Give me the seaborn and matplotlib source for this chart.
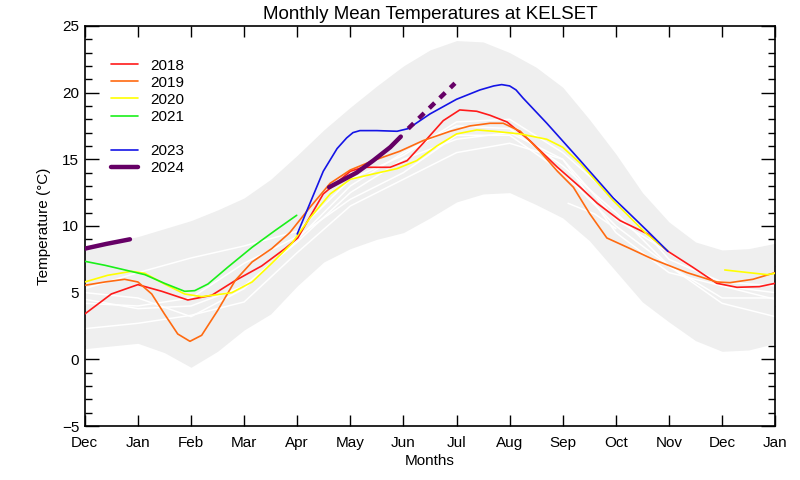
import numpy as np
import pandas as pd
import seaborn as sns
import matplotlib
matplotlib.use("Agg")
import matplotlib.pyplot as plt
from matplotlib.lines import Line2D
from matplotlib.ticker import MultipleLocator

# ---- data (x = months since start of Dec; 0=Dec ... 13=Jan) ----
month_labels = ["Dec", "Jan", "Feb", "Mar", "Apr", "May", "Jun", "Jul",
                "Aug", "Sep", "Oct", "Nov", "Dec", "Jan"]

band_x = [0, 0.5, 1, 1.5, 2, 2.5, 3, 3.5, 4, 4.5, 5, 5.5, 6, 6.5, 7, 7.5,
          8, 8.5, 9, 9.5, 10, 10.5, 11, 11.5, 12, 12.5, 13]
band_upper = [8.5, 8.8, 9.2, 9.8, 10.4, 11.2, 12.1, 13.5, 15.3, 17.2, 18.9,
              20.5, 22.0, 23.2, 23.9, 23.8, 23.0, 21.9, 20.4, 18.0, 15.4,
              12.5, 10.3, 8.8, 8.2, 8.3, 8.7]
band_lower = [0.8, 1.0, 1.2, 0.5, -0.6, 0.6, 2.2, 3.4, 5.5, 7.3, 8.3, 9.0,
              9.5, 10.6, 11.8, 12.4, 12.5, 11.6, 10.6, 8.9, 6.6, 4.3, 2.8,
              1.4, 0.6, 0.7, 1.2]

white_x = list(range(14))
white_a = [4.5, 3.8, 4.0, 5.5, 8.8, 12.5, 15.0, 16.5, 17.0, 15.0, 10.5, 8.0, 5.5, 4.5]
white_b = [5.0, 4.6, 3.2, 5.3, 9.0, 13.0, 15.5, 17.5, 17.3, 14.5, 11.0, 7.0, 4.2, 3.2]
white_c = [2.3, 2.7, 3.3, 4.3, 8.0, 11.5, 13.5, 15.5, 16.2, 15.0, 9.5, 6.5, 5.5, 5.0]
white_d = [5.3, 6.5, 7.6, 8.5, 9.6, 13.5, 15.3, 17.8, 18.0, 15.5, 12.0, 7.5, 5.8, 5.5]
white_e = [4.2, 4.0, 4.6, 7.2, 9.2, 12.0, 14.0, 16.8, 16.8, 14.0, 10.0, 7.0, 4.6, 4.6]
white_f_x = [9.1, 9.6, 10.0]
white_f = [11.7, 10.9, 9.8]

x2018 = [0, 0.5, 1.0, 1.45, 1.94, 2.39, 2.83, 3.33, 3.77, 4.01, 4.49, 5.0, 5.24,
         5.75, 6.07, 6.37, 6.75, 7.06, 7.38, 7.63, 7.95, 8.38, 8.9, 9.33, 9.65,
         10.08, 10.6, 10.98, 11.45, 11.9, 12.28, 12.7, 13.0]
t2018 = [3.4, 4.9, 5.6, 5.1, 4.45, 4.8, 5.9, 7.0, 8.3, 9.1, 12.4, 14.1, 14.4,
         14.4, 14.9, 16.2, 17.9, 18.7, 18.6, 18.3, 17.8, 16.4, 14.4, 12.9, 11.7,
         10.4, 9.4, 8.1, 6.9, 5.7, 5.4, 5.45, 5.7]

x2019 = [0, 0.38, 0.75, 1.0, 1.26, 1.5, 1.75, 1.98, 2.2, 2.5, 2.83, 3.15, 3.52,
         3.86, 4.24, 4.62, 5.0, 5.43, 5.93, 6.37, 6.88, 7.25, 7.63, 7.88, 8.2,
         8.57, 8.9, 9.2, 9.51, 9.83, 10.27, 10.7, 11.34, 11.9, 12.15, 12.58, 13.0]
t2019 = [5.55, 5.8, 6.0, 5.8, 4.9, 3.4, 1.9, 1.35, 1.8, 3.65, 5.9, 7.3, 8.3,
         9.5, 11.4, 13.2, 14.2, 14.9, 15.6, 16.4, 17.1, 17.5, 17.7, 17.7, 17.1,
         15.6, 14.1, 12.9, 10.9, 9.1, 8.3, 7.5, 6.5, 5.8, 5.75, 6.0, 6.5]

x2020 = [0, 0.43, 0.88, 1.13, 1.5, 1.88, 2.2, 2.5, 2.77, 3.15, 3.52, 3.9, 4.24,
         4.62, 5.0, 5.43, 5.88, 6.25, 6.63, 7.0, 7.38, 7.7, 8.2, 8.7, 9.0, 9.33,
         9.95, 10.58, 10.96]
t2020 = [5.8, 6.3, 6.6, 6.45, 5.65, 4.9, 4.7, 4.85, 5.0, 5.8, 7.2, 8.7, 10.6,
         12.4, 13.5, 13.9, 14.3, 14.9, 16.0, 16.9, 17.2, 17.1, 16.9, 16.5, 15.9,
         14.7, 11.9, 9.4, 8.2]
x2020b = [12.05, 12.5, 12.85, 13.0]
t2020b = [6.7, 6.5, 6.35, 6.45]

x2021 = [0, 0.38, 0.81, 1.13, 1.5, 1.88, 2.07, 2.32, 2.69, 3.15, 3.58, 3.99]
t2021 = [7.35, 7.05, 6.65, 6.35, 5.7, 5.1, 5.15, 5.65, 6.9, 8.4, 9.65, 10.8]

x2023 = [4.0, 4.49, 4.75, 4.93, 5.05, 5.18, 5.5, 5.88, 6.09, 6.5, 7.0, 7.44,
         7.7, 7.85, 8.0, 8.12, 8.25, 8.7, 9.33, 9.95, 10.6, 10.98]
t2023 = [9.4, 14.1, 15.8, 16.6, 17.0, 17.15, 17.15, 17.1, 17.3, 18.4, 19.5, 20.2,
         20.5, 20.6, 20.5, 20.2, 19.6, 17.7, 14.9, 12.1, 9.6, 8.1]

x2024a = [0, 0.4, 0.85]
t2024a = [8.3, 8.65, 9.0]
x2024b = [4.6, 5.12, 5.43, 5.75, 5.95]
t2024b = [12.9, 14.0, 14.9, 15.9, 16.7]
x2024f = [6.09, 6.97]
t2024f = [17.3, 20.7]

colors = {"2018": "#FF1A1A", "2019": "#FF6A10", "2020": "#FFFF00",
          "2021": "#1AF01A", "2023": "#1414E6", "2024": "#660066"}

# ---- plot ----
sns.set_theme(style="ticks")
plt.rcParams["font.family"] = ["Liberation Sans", "DejaVu Sans"]

fig = plt.figure(figsize=(8, 4.8), dpi=100)
ax = fig.add_axes([0.106, 0.1125, 0.863, 0.8335])

ax.fill_between(band_x, band_lower, band_upper, color="#EFEFEF", lw=0, zorder=1)

for wx, wy in [(white_x, white_a), (white_x, white_b), (white_x, white_c),
               (white_x, white_d), (white_x, white_e), (white_f_x, white_f)]:
    sns.lineplot(x=wx, y=wy, ax=ax, color="white", lw=1.1, zorder=2,
                 estimator=None, sort=False)

def draw(xs, ys, key, lw=1.2, z=3):
    sns.lineplot(x=xs, y=ys, ax=ax, color=colors[key], lw=lw,
                 zorder=z, estimator=None, sort=False)
    return ax.lines[-1]

draw(x2018, t2018, "2018")
draw(x2019, t2019, "2019")
draw(x2020, t2020, "2020")
draw(x2020b, t2020b, "2020")
draw(x2021, t2021, "2021")
draw(x2023, t2023, "2023")
draw(x2024a, t2024a, "2024", lw=3.2, z=4)
draw(x2024b, t2024b, "2024", lw=3.2, z=4)
ln = draw(x2024f, t2024f, "2024", lw=3.2, z=4)
ln.set_dashes([1.7, 1.6])
ln.set_dash_capstyle("butt")

ax.set_xlim(0, 13)
ax.set_ylim(-5, 25)
ax.set_xticks(range(14))
ax.set_xticklabels(month_labels)
ax.yaxis.set_major_locator(MultipleLocator(5))
ax.yaxis.set_minor_locator(MultipleLocator(1))
ax.tick_params(axis="both", which="both", direction="in", top=True, right=True,
               labelsize=11, colors="black", width=1)
ax.tick_params(axis="y", which="major", length=10, pad=4)
ax.tick_params(axis="y", which="minor", length=5)
ax.tick_params(axis="x", which="major", length=8, pad=7)
for s in ax.spines.values():
    s.set_color("black")
    s.set_linewidth(1.2)

ax.set_title("Monthly Mean Temperatures at KELSET", fontsize=13.5, pad=5,
             color="black")
ax.set_xlabel("Months", fontsize=11, labelpad=3, color="black")
ax.set_ylabel("Temperature (\u00b0C)", fontsize=11, labelpad=8, color="black")

handles = [Line2D([], [], color=colors["2018"], lw=1.2),
           Line2D([], [], color=colors["2019"], lw=1.2),
           Line2D([], [], color=colors["2020"], lw=1.2),
           Line2D([], [], color=colors["2021"], lw=1.2),
           Line2D([], [], color="none", lw=1.2),
           Line2D([], [], color=colors["2023"], lw=1.2),
           Line2D([], [], color=colors["2024"], lw=3.2)]
labels = ["2018", "2019", "2020", "2021", " ", "2023", "2024"]
leg = ax.legend(handles, labels, loc="upper left", bbox_to_anchor=(0.038, 0.918),
                frameon=False, fontsize=11, handlelength=1.75, handletextpad=0.8,
                labelspacing=0.2, borderpad=0, borderaxespad=0)
for t in leg.get_texts():
    t.set_color("black")

fig.savefig("out.png", dpi=100)
